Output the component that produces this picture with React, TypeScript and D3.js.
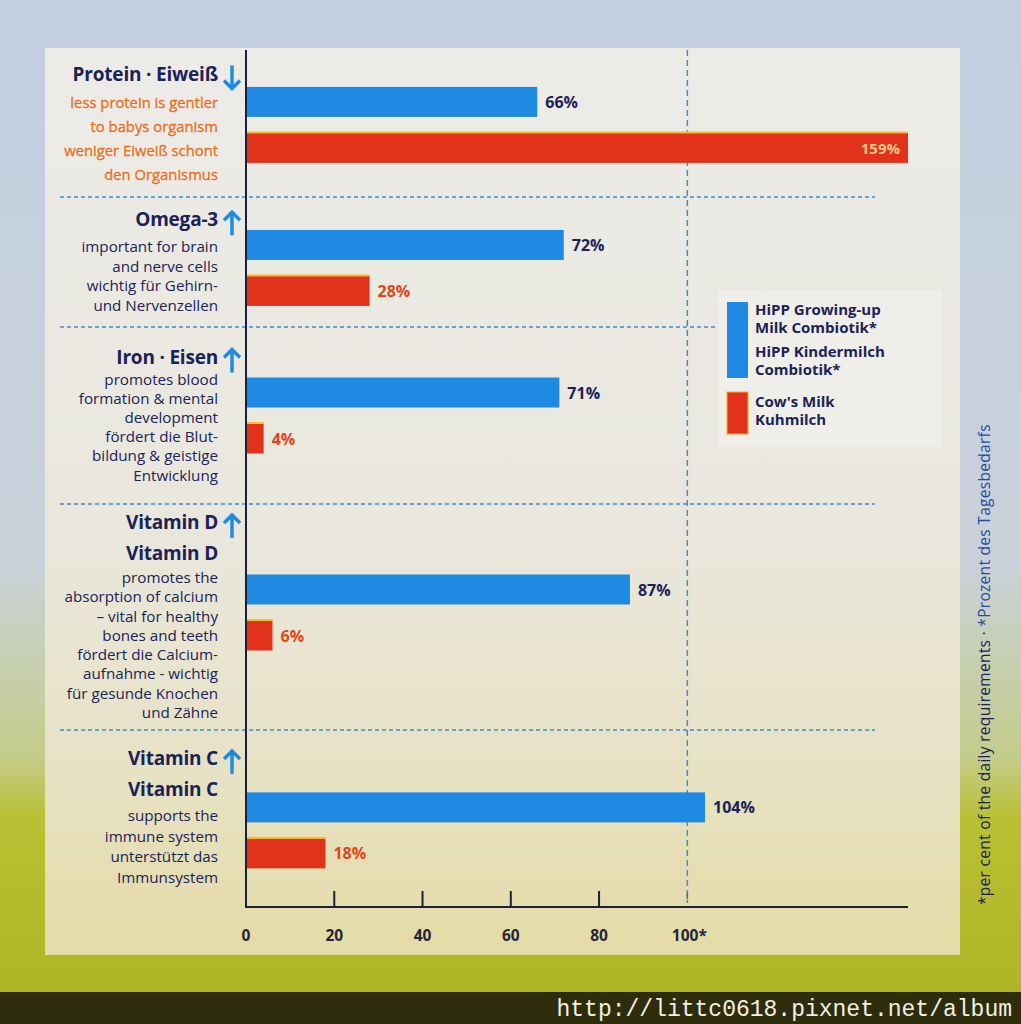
import React from "react";
import * as d3 from "d3";

// ---------- data ----------
const categories = ["Protein · Eiweiß", "Omega-3", "Iron · Eisen", "Vitamin D", "Vitamin C"];
const titleLines: string[][] = [
  ["Protein · Eiweiß"],
  ["Omega-3"],
  ["Iron · Eisen"],
  ["Vitamin D", "Vitamin D"],
  ["Vitamin C", "Vitamin C"],
];
const descLines: string[][] = [
  ["less protein is gentler", "to babys organism", "weniger Eiweiß schont", "den Organismus"],
  ["important for brain", "and nerve cells", "wichtig für Gehirn-", "und Nervenzellen"],
  ["promotes blood", "formation & mental", "development", "fördert die Blut-", "bildung & geistige", "Entwicklung"],
  ["promotes the", "absorption of calcium", "– vital for healthy", "bones and teeth", "fördert die Calcium-", "aufnahme - wichtig", "für gesunde Knochen", "und Zähne"],
  ["supports the", "immune system", "unterstützt das", "Immunsystem"],
];
const directions = ["down", "up", "up", "up", "up"];
const series = ["hipp", "cow"];
const hippValues = [66, 72, 71, 87, 104];
const cowValues = [159, 28, 4, 6, 18];
const tickValues = [0, 20, 40, 60, 80, 100];
const tickLabels = ["0", "20", "40", "60", "80", "100*"];
const legendHipp = ["HiPP Growing-up", "Milk Combiotik", "HiPP Kindermilch", "Combiotik"];
const legendCow = ["Cow's Milk", "Kuhmilch"];
const footnoteA = "*per cent of the daily requirements  ·  ";
const footnoteB = "*Prozent des Tagesbedarfs";
const watermark = "http://littc0618.pixnet.net/album";

// ---------- layout ----------
const W = 1021, H = 1024;
const sectionBreaks = [50, 197, 327, 504, 730, 905];
const barAlign = [0.52, 0.61, 0.5, 0.47, 0.63];
const descStep = [24, 19.5, 19.2, 19.3, 20.7];
const titleToDesc = [28, 27, 22, 24, 26];
const TITLE_STEP = 31;
const NAVY = "#1b2356";
const BLUE = "#1e8ae2";
const RED = "#e3321c";
const ARROW = "#1e8ce0";
const DASH = "#3f8dc9";
const FONT = "'Open Sans', 'Noto Sans', sans-serif";

export default function App() {
  const x = d3.scaleLinear().domain([0, 150]).range([246, 908]).clamp(true);
  const axisY = 907;
  const textRight = 218;

  return (
    <svg width={W} height={H} style={{ position: "absolute", left: 0, top: 0, display: "block" }} fontFamily={FONT}>
      <defs>
        <linearGradient id="bg" x1="0" y1="0" x2="0" y2="1">
          <stop offset="0" stopColor="#c3cfe1" />
          <stop offset="0.55" stopColor="#c9d2da" />
          <stop offset="0.74" stopColor="#c4cc8a" />
          <stop offset="0.8" stopColor="#b9c033" />
          <stop offset="1" stopColor="#aeb322" />
        </linearGradient>
        <linearGradient id="panel" x1="0" y1="0" x2="0" y2="1">
          <stop offset="0" stopColor="#ecebe8" />
          <stop offset="0.55" stopColor="#e9e7dc" />
          <stop offset="0.8" stopColor="#e7e2c4" />
          <stop offset="1" stopColor="#e4dba6" />
        </linearGradient>
      </defs>
      <rect x={0} y={0} width={W} height={H} fill="url(#bg)" />
      <rect x={45} y={48} width={915} height={907} fill="url(#panel)" />
      <rect x={0} y={992} width={W} height={32} fill="#2e2d0b" />
      <text x={1012} y={1016} textAnchor="end" fontFamily="'Liberation Mono', 'DejaVu Sans Mono', monospace" fontSize={23} fill="#f2f0e2">{watermark}</text>

      {/* separators */}
      {sectionBreaks.slice(1, -1).map((y, i) => (
        <line key={"sep" + i} x1={60} x2={875} y1={y} y2={y} stroke={DASH} strokeWidth={1.5} strokeDasharray="4 3" />
      ))}
      {/* 100% dashed line */}
      <line x1={x(100)} x2={x(100)} y1={50} y2={axisY - 4} stroke={DASH} strokeWidth={1.5} strokeDasharray="6 4" />

      {/* legend background (covers separator) */}
      <rect x={718} y={290} width={224} height={157} fill="#efeee9" />

      {/* sections */}
      {categories.map((c, i) => {
        const a = sectionBreaks[i], b = sectionBreaks[i + 1];
        const mid = (a + b) / 2;
        const band = d3.scaleBand().domain(series).range([a, b]).paddingInner(16 / 46)
          .paddingOuter(((b - a) / 46 - (2 - 16 / 46)) / 2).align(barAlign[i]);
        const titles = titleLines[i];
        const descs = descLines[i];
        const blockH = (titles.length - 1) * TITLE_STEP + titleToDesc[i] + (descs.length - 1) * descStep[i];
        const first = mid - blockH / 2;
        const descStart = first + (titles.length - 1) * TITLE_STEP + titleToDesc[i];
        const ay = first + 4;
        const ax = 232;
        const up = directions[i] === "up";
        const s = up ? -1 : 1;
        const hv = hippValues[i], cv = cowValues[i];
        const yb = band("hipp")!, yr = band("cow")!;
        const bw = band.bandwidth();
        const cowInside = cv > 150;
        return (
          <g key={c}>
            {titles.map((t, k) => (
              <text key={"t" + k} x={textRight} y={first + k * TITLE_STEP} textAnchor="end" dominantBaseline="central"
                fontSize={19} fontWeight={700} fill={NAVY} letterSpacing={-0.2}>{t}</text>
            ))}
            {descs.map((t, k) => (
              <text key={"d" + k} x={textRight} y={descStart + k * descStep[i]} textAnchor="end" dominantBaseline="central"
                fontSize={i === 0 ? 14.8 : 15.2} fill={i === 0 ? "#ec7f17" : NAVY}
                stroke={i === 0 ? "#e8581a" : "none"} strokeWidth={i === 0 ? 0.3 : 0}>{t}</text>
            ))}
            <g stroke={ARROW} strokeWidth={3.5} fill="none" strokeLinejoin="miter">
              <line x1={ax} x2={ax} y1={ay - s * 12} y2={ay + s * 10} />
              <polyline points={`${ax - 8},${ay + s * 3} ${ax},${ay + s * 11} ${ax + 8},${ay + s * 3}`} />
            </g>
            {/* bars */}
            <rect x={x(0)} y={yb} width={x(hv) - x(0)} height={bw} fill={BLUE} />
            <rect x={x(0)} y={yr} width={x(cv) - x(0)} height={bw} fill={RED} />
            <rect x={x(0)} y={yr - 1.5} width={x(cv) - x(0)} height={2} fill="#f2c02a" />
            <text x={x(hv) + 8} y={yb + bw / 2} dominantBaseline="central" fontSize={16} fontWeight={700} fill={NAVY}>{hv}%</text>
            <text x={cowInside ? x(cv) - 8 : x(cv) + 8} y={yr + bw / 2} dominantBaseline="central"
              textAnchor={cowInside ? "end" : "start"} fontSize={cowInside ? 15 : 16} fontWeight={700}
              fill={cowInside ? "#f6c78c" : "#e0451a"}>{cv}%</text>
          </g>
        );
      })}

      {/* axes */}
      <line x1={x(0)} x2={x(0)} y1={50} y2={axisY} stroke="#1a1f3a" strokeWidth={2} />
      <line x1={x(0) - 1} x2={x(150)} y1={axisY} y2={axisY} stroke="#1a1f3a" strokeWidth={2} />
      {tickValues.map((v, i) => (
        <g key={"tk" + v}>
          {v > 0 && v < 100 && <line x1={x(v)} x2={x(v)} y1={axisY} y2={axisY - 16} stroke="#1a1f3a" strokeWidth={2} />}
          {v === 100 && <line x1={x(v)} x2={x(v)} y1={axisY - 14} y2={axisY - 8} stroke="#3c7a6a" strokeWidth={1.5} />}
          <text x={x(v) + (v === 100 ? 2 : 0)} y={935} textAnchor="middle" dominantBaseline="central" fontSize={15.5}
            fontWeight={700} fill="#23253a">{tickLabels[i]}</text>
        </g>
      ))}

      {/* legend */}
      <rect x={727} y={302} width={21} height={76} fill={BLUE} />
      <rect x={727} y={392} width={21} height={42} fill={RED} stroke="#f2b02a" strokeWidth={1} />
      {legendHipp.map((t, k) => (
        <text key={"lh" + k} x={755} y={[309, 327, 351, 369][k]} dominantBaseline="central" fontSize={15} fontWeight={700} fill={NAVY}>
          {t}{k % 2 === 1 ? "*" : ""}
        </text>
      ))}
      {legendCow.map((t, k) => (
        <text key={"lc" + k} x={755} y={[401, 419][k]} dominantBaseline="central" fontSize={15} fontWeight={700} fill={NAVY}>{t}</text>
      ))}

      {/* footnote */}
      <text transform="translate(984,905) rotate(-90)" fontSize={15.5} letterSpacing={0.3} dominantBaseline="central">
        <tspan fill={NAVY}>{footnoteA}</tspan>
        <tspan fill="#2b4a9e">{footnoteB}</tspan>
      </text>
    </svg>
  );
}
